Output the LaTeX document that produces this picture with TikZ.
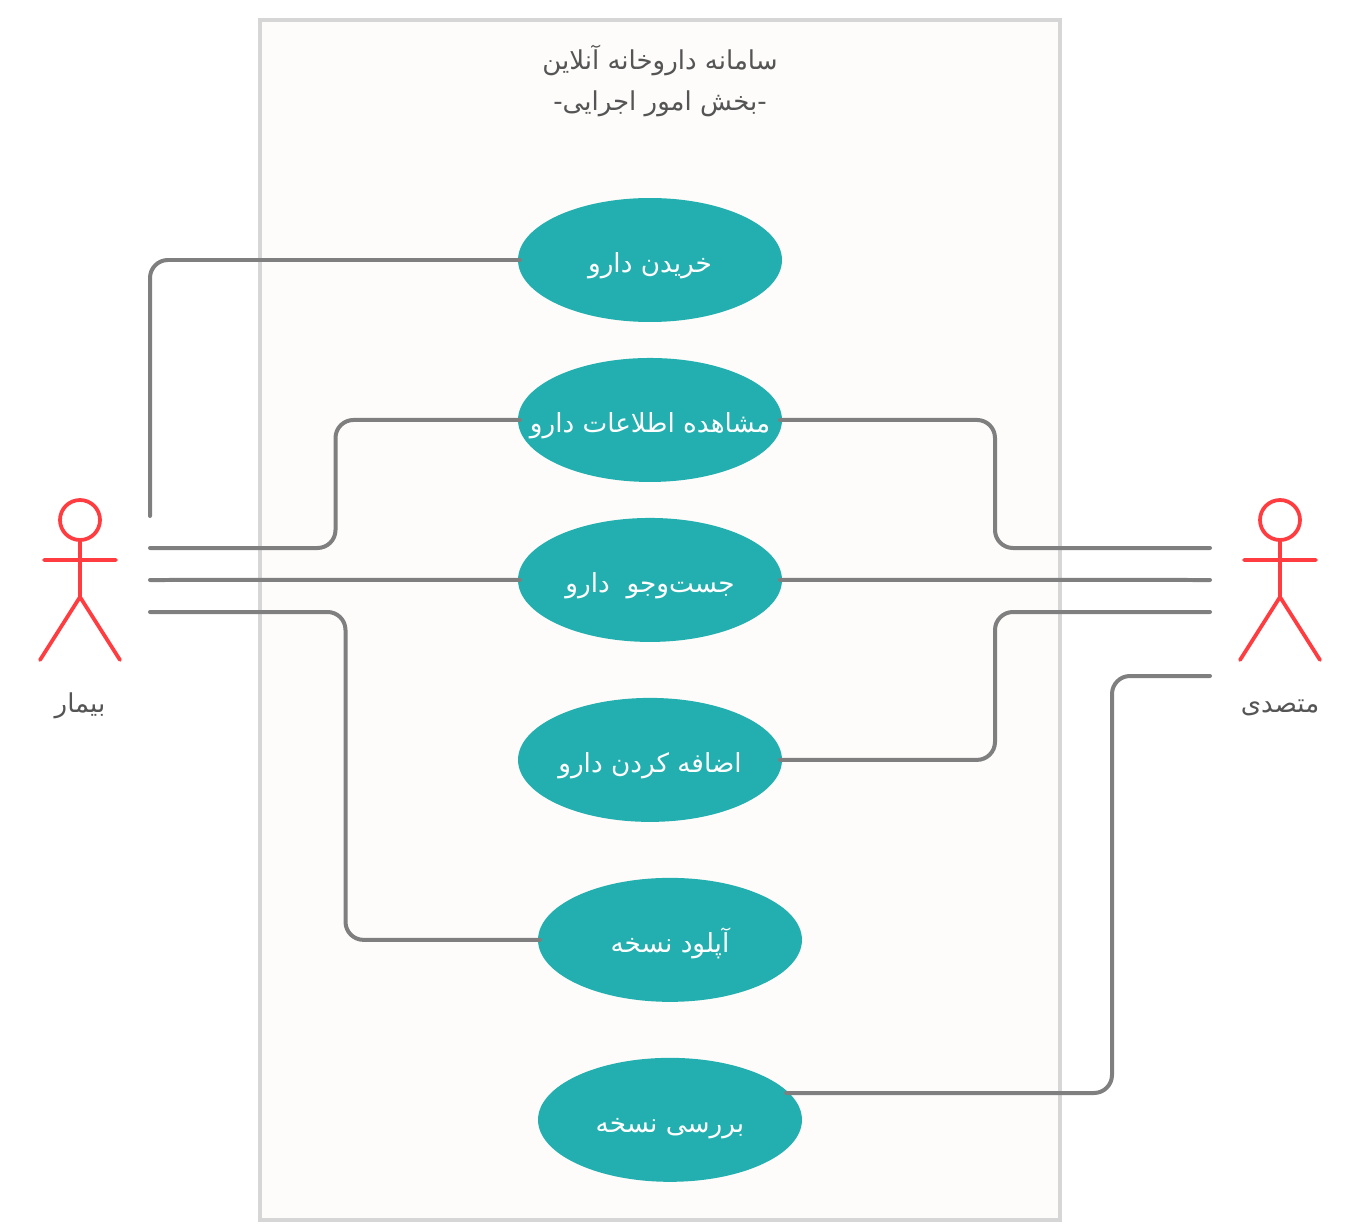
\documentclass[tikz,border=0pt]{standalone}
\usepackage{xcolor}
\usepackage{fontspec}
\usetikzlibrary{positioning, shapes.geometric}
\TeXXeTstate=1
\newfontfamily\farsifont[Script=Arabic]{DejaVu Sans}
\newcommand{\fa}[1]{\beginR #1\endR}
\newcommand{\falabel}[1]{\raisebox{-0.26cm}[0pt][0pt]{\makebox[0pt]{\fa{#1}}}}
\definecolor{sysbg}{RGB}{253,252,250}
\definecolor{sysline}{RGB}{214,214,214}
\definecolor{usecase}{RGB}{35,175,175}
\definecolor{connline}{RGB}{127,127,127}
\definecolor{actorred}{RGB}{255,61,64}
\definecolor{txtgray}{RGB}{85,85,85}

\begin{document}
\begin{tikzpicture}[
  x=0.02cm, y=-0.02cm,
  node distance=0.8cm,
  sysbox/.style={draw=sysline, fill=sysbg, line width=0.08cm, minimum width=16cm, minimum height=24cm},
  case/.style={ellipse, fill=usecase, minimum width=5.28cm, minimum height=2.48cm, inner sep=0pt, outer sep=-0.04cm, text=white, font=\farsifont\fontsize{14.95}{18}\selectfont},
  caption/.style={text=txtgray, align=center, font=\farsifont\fontsize{14.8}{23.2}\selectfont},
  conn/.style={draw=connline, line width=0.08cm, line cap=round, rounded corners=0.36cm},
  actor/.pic={
    \draw[actorred, line width=0.075cm, line cap=round] (0,-60) circle[radius=0.4cm]
      (0,-40) -- (0,17) (-36,-20) -- (36,-20) (-40,80) -- (0,17) -- (40,80);
  }
]
  \useasboundingbox (0,0) rectangle (1350,1230);
  \node[sysbox] (system) at (660,620) {};
  \node[caption] (title) at (660,81) {\fa{سامانه داروخانه آنلاین}\\\fa{-بخش امور اجرایی-}};

  \node[case] (buy) at (650,260) {\falabel{خریدن دارو}};
  \node[case, below=of buy] (view) {\falabel{مشاهده اطلاعات دارو}};
  \node[case, below=of view] (search) {\falabel{جست‌وجو~~دارو}};
  \node[case, below=1.2cm of search] (add) {\falabel{اضافه کردن دارو}};
  \node[case, below=1.2cm of add, xshift=0.4cm] (upload) {\falabel{آپلود نسخه}};
  \node[case, below=1.2cm of upload] (check) {\falabel{بررسی نسخه}};

  \pic at (80,580) {actor};
  \pic at (1280,580) {actor};
  \node[caption, anchor=base] (patient) at (80,712) {\fa{بیمار}};
  \node[caption, anchor=base] (pharmacist) at (1280,712) {\fa{متصدی}};

  \coordinate (patienta) at (150,516);
  \coordinate (patientb) at (150,548);
  \coordinate (patientc) at (150,580);
  \coordinate (patientd) at (150,612);
  \coordinate (pharma) at (1210,548);
  \coordinate (pharmb) at (1210,580);
  \coordinate (pharmc) at (1210,612);
  \coordinate (pharmd) at (1210,676);

  \draw[conn] (patienta) |- (buy.west);
  \draw[conn] (patientb) -| (335.5,484) |- (view.west);
  \draw[conn] (patientc) -- (search.west);
  \draw[conn] (patientd) -| (345.5,776) |- (upload.west);
  \draw[conn] (view.east) -| (995,484) |- (pharma);
  \draw[conn] (search.east) -- (pharmb);
  \draw[conn] (add.east) -| (995,686) |- (pharmc);
  \draw[conn] (check.13) -| (1112,885) |- (pharmd);
\end{tikzpicture}
\end{document}
